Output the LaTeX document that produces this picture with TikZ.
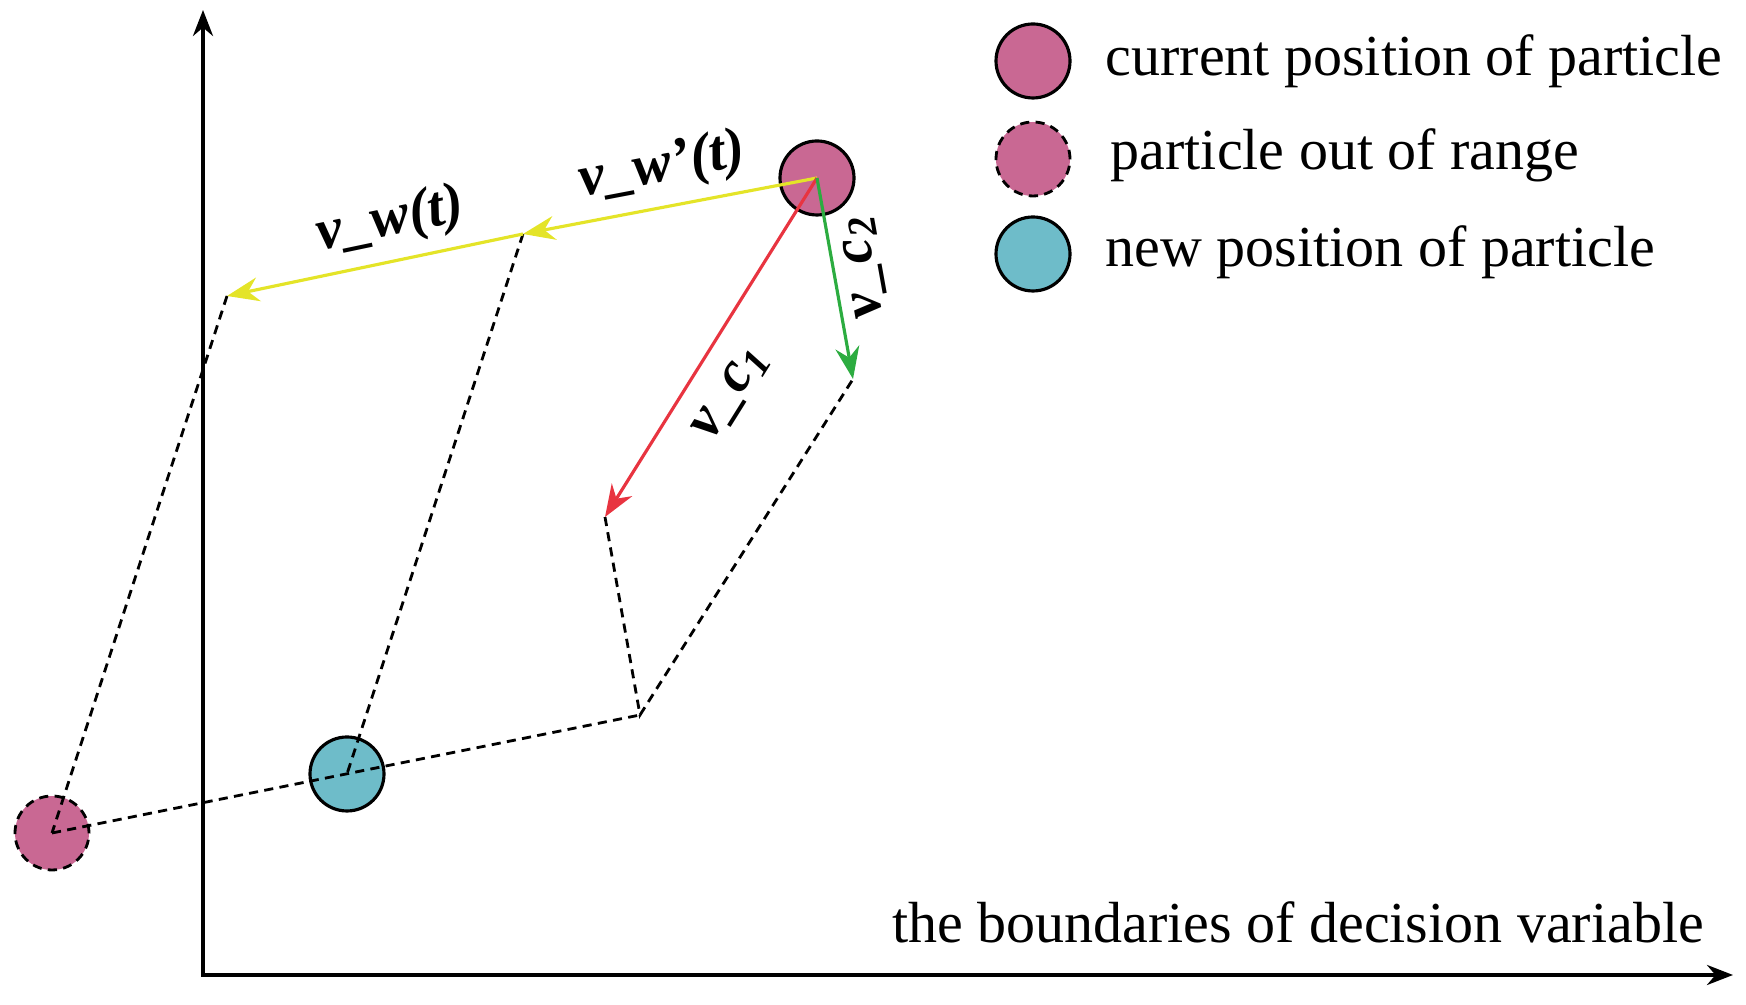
\documentclass[tikz,border=0pt]{standalone}
\usepackage{fontspec}
\setmainfont{Liberation Serif}[
  ItalicFont={Liberation Serif Italic},
  BoldFont={Liberation Serif Bold},
  BoldItalicFont={Liberation Serif Bold Italic}]
\usetikzlibrary{arrows.meta}
\definecolor{partpink}{RGB}{201,104,147}
\definecolor{partteal}{RGB}{110,188,201}
\definecolor{vwyellow}{RGB}{228,228,40}
\definecolor{vcred}{RGB}{232,52,64}
\definecolor{vcgreen}{RGB}{44,172,64}
\newcommand{\figfont}{\fontsize{16.5}{20}\selectfont}
\tikzset{
  particle/.style={circle, draw, line width=0.9pt, minimum size=7.4mm, inner sep=0pt},
  guide/.style={dash pattern=on 2.6pt off 1.8pt, line width=0.8pt},
  vel/.style={line width=0.9pt, -{Stealth[length=3.2mm,width=2.4mm]}},
  vlabel/.style={font=\figfont\bfseries\itshape, sloped, text=black},
  legtext/.style={anchor=base west, inner sep=0pt},
}
\begin{document}
\begin{tikzpicture}[font=\figfont]
  \useasboundingbox (0,0) rectangle (17.46,10.05);
  % axes
  \coordinate (O) at (2.03,0.30);
  \coordinate (ytop) at (2.03,9.95);
  \coordinate (xend) at (17.33,0.30);
  \draw[line width=1.1pt, {Stealth[length=2.6mm,width=2mm]}-{Stealth[length=2.6mm,width=2mm]}] (ytop)--(O)--(xend);
  \node[anchor=base] (xlabel) at (12.98,0.62) {the boundaries of decision variable};

  % particles
  \node[particle, fill=partpink] (cur) at (8.17,8.27) {};
  \node[particle, fill=partpink, guide] (out) at (0.52,1.72) {};
  \node[particle, fill=partteal] (new) at (3.47,2.31) {};

  \coordinate (wp) at (5.23,7.71);
  \coordinate (w) at (2.27,7.09);
  \coordinate (c1) at (6.05,4.88);
  \coordinate (c2) at (8.53,6.26);
  \coordinate (jn) at (6.40,2.90);

  % parallelogram sides
  \draw[guide] (w)--(out.center);
  \draw[guide] (wp)--(new.center);
  \draw[guide] (c1)--(jn)--(c2);
  \draw[guide] (out.center)--(jn);

  % velocities
  \draw[vel, vwyellow] (cur.center)--node[vlabel, above]{v\_w’(t)} (wp);
  \draw[vel, vwyellow] (wp)--node[vlabel, above, pos=0.42]{v\_w(t)} (w);
  \draw[vel, vcred] (cur.center)--node[vlabel, below=3pt, pos=0.57]{v\_c\textsubscript{1}} (c1);
  \draw[vel, vcgreen] (cur.center)--node[vlabel, rotate=180, below, pos=0.47]{v\_c\textsubscript{2}} (c2);

  % legend
  \node[particle, fill=partpink] (lgcur) at (10.33,9.44) {};
  \node[particle, fill=partpink, guide] (lgout) at (10.33,8.46) {};
  \node[particle, fill=partteal] (lgnew) at (10.33,7.51) {};
  \node[legtext] (lgcurtxt) at (11.05,9.29) {current position of particle};
  \node[legtext] (lgouttxt) at (11.10,8.35) {particle out of range};
  \node[legtext] (lgnewtxt) at (11.05,7.38) {new position of particle};
\end{tikzpicture}
\end{document}
